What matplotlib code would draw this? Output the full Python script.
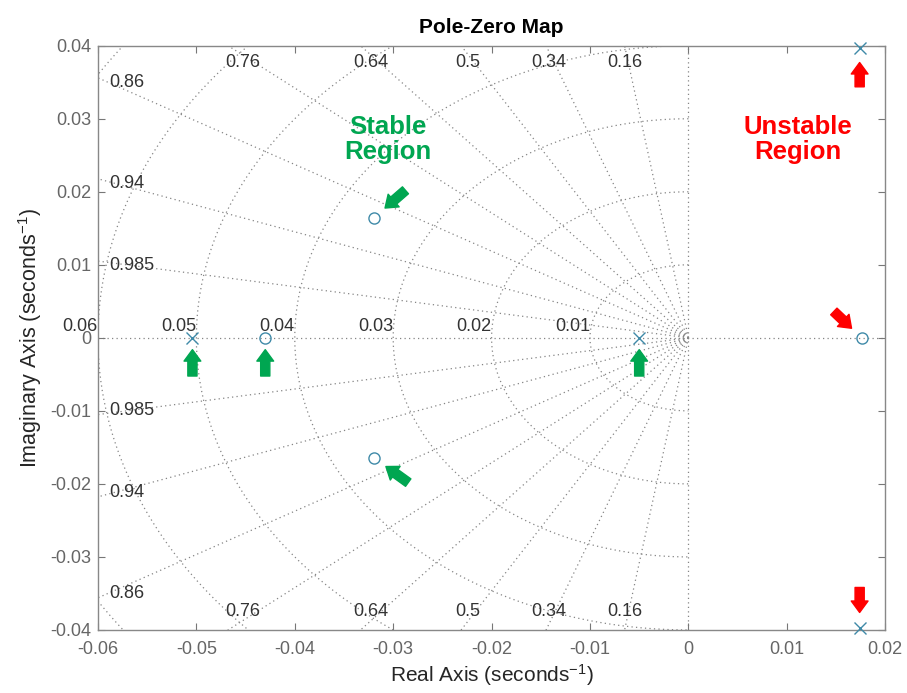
import numpy as np
import matplotlib
matplotlib.use('Agg')
import matplotlib.pyplot as plt

plt.rcParams['font.family'] = ['Liberation Sans', 'DejaVu Sans']
plt.rcParams['mathtext.fontset'] = 'custom'
plt.rcParams['mathtext.rm'] = 'Liberation Sans'
plt.rcParams['mathtext.it'] = 'Liberation Sans'

# poles (x) and zeros (o)
pole_re = [-0.0504, -0.0050, 0.0174, 0.0174]
pole_im = [0.0, 0.0, 0.0397, -0.0397]
zero_re = [-0.0430, -0.0320, -0.0320, 0.0176]
zero_im = [0.0, 0.0164, -0.0164, 0.0]

# grid values
zetas = [0.16, 0.34, 0.5, 0.64, 0.76, 0.86, 0.94, 0.985]
wns = [0.01, 0.02, 0.03, 0.04, 0.05, 0.06, 0.07]
wn_labels = ['0.01', '0.02', '0.03', '0.04', '0.05', '0.06']

xmin, xmax = -0.06, 0.02
ymin, ymax = -0.04, 0.04

green = '#00a651'
red = '#ff0000'
mk = '#3f8aa8'
gridc = '#858585'
dots = (0, (1, 2.6))

fig = plt.figure(figsize=(9.07, 6.93), dpi=100)
ax = fig.add_axes([0.108, 0.091, 0.868, 0.843])
ax.set_xlim(xmin, xmax)
ax.set_ylim(ymin, ymax)

# damping rays
for z in zetas:
    s = np.sqrt(1 - z * z)
    r = np.array([0, 0.2])
    ax.plot(-r * z, r * s, color=gridc, ls=dots, lw=0.9, zorder=1)
    ax.plot(-r * z, -r * s, color=gridc, ls=dots, lw=0.9, zorder=1)
ax.plot([0, 0], [ymin, ymax], color=gridc, ls=dots, lw=0.9, zorder=1)
ax.plot([xmin, xmax], [0, 0], color=gridc, ls=dots, lw=0.9, zorder=1)

# natural frequency arcs
th = np.linspace(np.pi / 2, 3 * np.pi / 2, 300)
for w in wns:
    ax.plot(w * np.cos(th), w * np.sin(th), color=gridc, ls=dots, lw=0.9, zorder=1)

# zeta labels
lab_kw = dict(fontsize=13, color='#333333', clip_on=False, zorder=2)
for z in zetas:
    t = z / np.sqrt(1 - z * z)
    txt = ('%g' % z)
    if ymax * t < -xmin:
        xi = -ymax * t + 0.0025 * z * z
        ax.text(xi, 0.0377, txt, ha='center', va='center', **lab_kw)
        ax.text(xi, -0.0375, txt, ha='center', va='center', **lab_kw)
    else:
        yi = -xmin / t - 0.0006
        ax.text(-0.0589, yi, txt, ha='left', va='center', **lab_kw)
        ax.text(-0.0589, -yi, txt, ha='left', va='center', **lab_kw)

for w, lab in zip(wns, wn_labels):
    ax.text(-w, 0.0004, lab, ha='right', va='bottom', **lab_kw)

# markers
ax.plot(pole_re, pole_im, 'x', color=mk, ms=8, mew=1.0, zorder=4, clip_on=False)
ax.plot(zero_re, zero_im, 'o', color=mk, ms=8, mfc='none', mew=1.0, zorder=4, clip_on=False)

# arrows pointing at the markers (tail offset in points, gap at tip in points)
def arrow(x, y, dx, dy, gap, col):
    ax.annotate('', xy=(x, y), xytext=(dx, dy), textcoords='offset points',
                arrowprops=dict(arrowstyle='simple,head_length=0.75,head_width=1.1,tail_width=0.6',
                                color=col, shrinkA=0, shrinkB=gap, mutation_scale=11),
                annotation_clip=False, zorder=5)

arrow(pole_re[0], 0, 0, -27.5, 8.5, green)
arrow(zero_re[0], 0, 0, -27.5, 8.5, green)
arrow(pole_re[1], 0, 0, -27.5, 8.5, green)
arrow(zero_re[1], zero_im[1], 23, 20, 11, green)
arrow(zero_re[2], zero_im[2], 25, -18, 11, green)
arrow(zero_re[3], 0, -20, 19, 10, red)
arrow(pole_re[2], pole_im[2], 0, -28, 10.5, red)
arrow(pole_re[3], pole_im[3], 0, 29, 11, red)

ax.text(-0.0305, 0.0271, 'Stable\nRegion', color=green, fontsize=18.5, fontweight='bold',
        ha='center', va='center', linespacing=1.05)
ax.text(0.0111, 0.0271, 'Unstable\nRegion', color=red, fontsize=18.5, fontweight='bold',
        ha='center', va='center', linespacing=1.05)

ax.set_xticks(np.arange(-0.06, 0.021, 0.01))
ax.set_yticks(np.arange(-0.04, 0.041, 0.01))
ax.set_xticklabels(['-0.06', '-0.05', '-0.04', '-0.03', '-0.02', '-0.01', '0', '0.01', '0.02'])
ax.set_yticklabels(['-0.04', '-0.03', '-0.02', '-0.01', '0', '0.01', '0.02', '0.03', '0.04'])
ax.tick_params(direction='in', length=5, width=0.8, color='#777777', labelcolor='#666666',
               labelsize=13, top=True, right=True)
ax.tick_params(axis='x', pad=8)
ax.tick_params(axis='y', pad=5)
for sp in ax.spines.values():
    sp.set_color('#888888')
    sp.set_linewidth(1.0)

ax.set_title('Pole-Zero Map', fontsize=15, fontweight='bold', pad=9)
ax.set_xlabel('Real Axis (seconds$^{-1}$)', fontsize=15, color='#262626', labelpad=3)
ax.set_ylabel('Imaginary Axis (seconds$^{-1}$)', fontsize=15.5, color='#262626', labelpad=4)

fig.savefig('out.png', dpi=100)
